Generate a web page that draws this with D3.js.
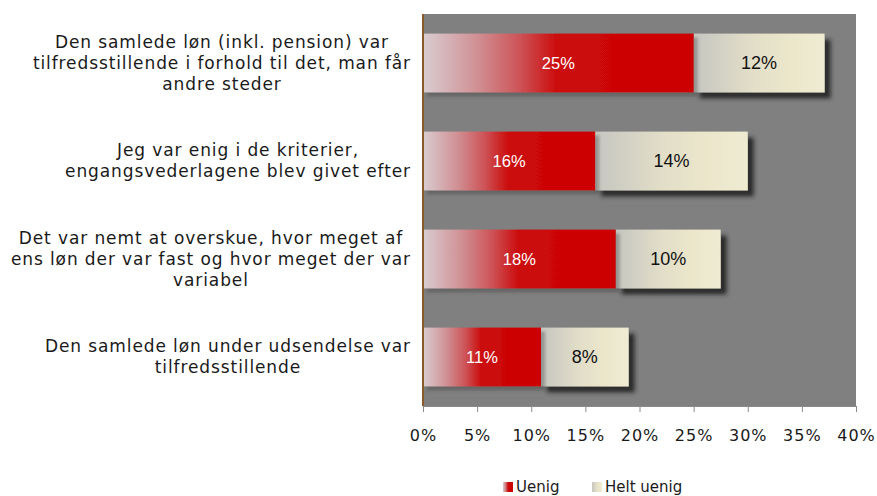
<!doctype html>
<html>
<head>
    <script src="https://d3js.org/d3.v7.min.js"></script>
    <style>
        body { margin: 0; background: #fff; }
        svg text { font-family: "DejaVu Sans", Verdana, sans-serif; fill: #1a1a1a; }
        .val { font-family: "Liberation Sans", Arial, sans-serif; text-anchor: middle; }
    </style>
</head>
<body>
<script>
    // data, top to bottom
    let categories = [
        ["Den samlede løn (inkl. pension) var", "tilfredsstillende i forhold til det, man får", "andre steder"],
        ["Jeg var enig i de kriterier,", "engangsvederlagene blev givet efter"],
        ["Det var nemt at overskue, hvor meget af", "ens løn der var fast og hvor meget der var", "variabel"],
        ["Den samlede løn under udsendelse var", "tilfredsstillende"]
    ];
    let uenig = [25.0, 15.9, 17.8, 10.9];
    let heltUenig = [12.1, 14.1, 9.7, 8.1];
    let uenigLabels = ["25%", "16%", "18%", "11%"];
    let heltLabels = ["12%", "14%", "10%", "8%"];
    let ticks = [0, 5, 10, 15, 20, 25, 30, 35, 40];
    let seriesNames = ["Uenig", "Helt uenig"];

    let width = 877, height = 496;
    let plot = {left: 423, right: 856, top: 14, bottom: 406};

    let svg = d3.select("body").append("svg")
        .attr("width", width).attr("height", height);

    let defs = svg.append("defs");

    let red = defs.append("linearGradient").attr("id", "red");
    red.append("stop").attr("offset", "0").attr("stop-color", "#d9cdd1");
    red.append("stop").attr("offset", "0.2").attr("stop-color", "#d09094");
    red.append("stop").attr("offset", "0.36").attr("stop-color", "#cd5256");
    red.append("stop").attr("offset", "0.5").attr("stop-color", "#cc0a0a");
    red.append("stop").attr("offset", "1").attr("stop-color", "#cc0000");

    let cream = defs.append("linearGradient").attr("id", "cream");
    cream.append("stop").attr("offset", "0").attr("stop-color", "#c6c6c1");
    cream.append("stop").attr("offset", "0.45").attr("stop-color", "#e2dec8");
    cream.append("stop").attr("offset", "0.75").attr("stop-color", "#ece7cb");
    cream.append("stop").attr("offset", "1").attr("stop-color", "#efebd3");

    let sh = defs.append("filter").attr("id", "shadow")
        .attr("x", "-10%").attr("y", "-20%").attr("width", "130%").attr("height", "150%");
    sh.append("feGaussianBlur").attr("in", "SourceAlpha").attr("stdDeviation", 2);
    sh.append("feOffset").attr("dx", 6).attr("dy", 6).attr("result", "b");
    sh.append("feFlood").attr("flood-color", "#222").attr("flood-opacity", 0.9);
    sh.append("feComposite").attr("in2", "b").attr("operator", "in");
    let m = sh.append("feMerge");
    m.append("feMergeNode");
    m.append("feMergeNode").attr("in", "SourceGraphic");

    let sh2 = defs.append("filter").attr("id", "shadow2")
        .attr("x", "-10%").attr("y", "-20%").attr("width", "130%").attr("height", "150%");
    sh2.append("feGaussianBlur").attr("in", "SourceAlpha").attr("stdDeviation", 1.5);
    sh2.append("feOffset").attr("dx", 4).attr("dy", 4).attr("result", "b");
    sh2.append("feFlood").attr("flood-color", "#333").attr("flood-opacity", 0.35);
    sh2.append("feComposite").attr("in2", "b").attr("operator", "in");
    let m2 = sh2.append("feMerge");
    m2.append("feMergeNode");
    m2.append("feMergeNode").attr("in", "SourceGraphic");

    let x = d3.scaleLinear().domain([0, 40]).range([plot.left, plot.right]);
    let y = d3.scaleBand().domain(d3.range(categories.length))
        .range([plot.top, plot.bottom]).paddingInner(0.4).paddingOuter(0.2);

    // plot background
    svg.append("rect")
        .attr("x", plot.left).attr("y", plot.top)
        .attr("width", plot.right - plot.left).attr("height", plot.bottom - plot.top)
        .attr("fill", "#808080");

    // bars: cream first (it carries the big shadow), then red on top
    svg.selectAll("rect.helt").data(heltUenig).enter().append("rect")
        .attr("class", "helt")
        .attr("x", (d, i) => x(uenig[i]))
        .attr("y", (d, i) => y(i))
        .attr("width", (d, i) => x(uenig[i] + d) - x(uenig[i]))
        .attr("height", y.bandwidth())
        .attr("fill", "url(#cream)")
        .attr("filter", "url(#shadow)");

    svg.selectAll("rect.uenig").data(uenig).enter().append("rect")
        .attr("class", "uenig")
        .attr("x", x(0))
        .attr("y", (d, i) => y(i))
        .attr("width", d => x(d) - x(0))
        .attr("height", y.bandwidth())
        .attr("fill", "url(#red)")
        .attr("filter", "url(#shadow2)");

    svg.selectAll("text.vu").data(uenig).enter().append("text")
        .attr("class", "val")
        .attr("x", d => (x(0) + x(d)) / 2)
        .attr("y", (d, i) => y(i) + y.bandwidth() / 2)
        .attr("dy", "0.35em")
        .style("fill", "#fff")
        .style("font-size", "16.5px")
        .text((d, i) => uenigLabels[i]);

    svg.selectAll("text.vh").data(heltUenig).enter().append("text")
        .attr("class", "val")
        .attr("x", (d, i) => (x(uenig[i]) + x(uenig[i] + d)) / 2)
        .attr("y", (d, i) => y(i) + y.bandwidth() / 2)
        .attr("dy", "0.35em")
        .style("fill", "#111")
        .style("font-size", "18px")
        .text((d, i) => heltLabels[i]);

    // x axis
    let xAxis = svg.append("g")
        .attr("transform", "translate(0," + plot.bottom + ")")
        .call(d3.axisBottom(x).tickValues(ticks).tickFormat(d => d + "%").tickSize(6).tickPadding(18));
    xAxis.select(".domain").attr("stroke", "#8a8a8a");
    xAxis.selectAll(".tick line").attr("stroke", "#8a8a8a");
    xAxis.selectAll(".tick text")
        .style("font-family", "'DejaVu Sans', Verdana, sans-serif")
        .style("font-size", "16px").style("letter-spacing", "1px").attr("fill", "#1a1a1a");

    // left axis line
    svg.append("line")
        .attr("x1", plot.left).attr("x2", plot.left)
        .attr("y1", plot.top).attr("y2", plot.bottom)
        .attr("stroke", "#8b5a2b").attr("stroke-width", 2);

    // category labels: lines centred on the widest line, block right-aligned
    let lineH = 21, labelRight = 411;
    categories.forEach((lines, i) => {
        let cy = y(i) + y.bandwidth() / 2;
        let t = svg.append("text")
            .attr("text-anchor", "middle")
            .style("font-size", "17px")
            .style("letter-spacing", "0.9px")
            .attr("y", cy - (lines.length - 1) * lineH / 2);
        let spans = lines.map((s, j) => t.append("tspan")
            .attr("dy", j === 0 ? "0.35em" : lineH)
            .text(s));
        let maxW = d3.max(spans, sp => sp.node().getComputedTextLength());
        spans.forEach(sp => sp.attr("x", labelRight - maxW / 2));
    });

    // legend
    let legend = svg.append("g").attr("transform", "translate(503,482)");
    let lx = [0, 89];
    seriesNames.forEach((name, i) => {
        legend.append("rect").attr("x", lx[i]).attr("y", 0)
            .attr("width", 10).attr("height", 10)
            .attr("fill", i === 0 ? "url(#red)" : "url(#cream)");
        legend.append("text").attr("x", lx[i] + 13).attr("y", 5).attr("dy", "0.35em")
            .style("font-size", "15px").text(name);
    });
</script>
</body>
</html>
